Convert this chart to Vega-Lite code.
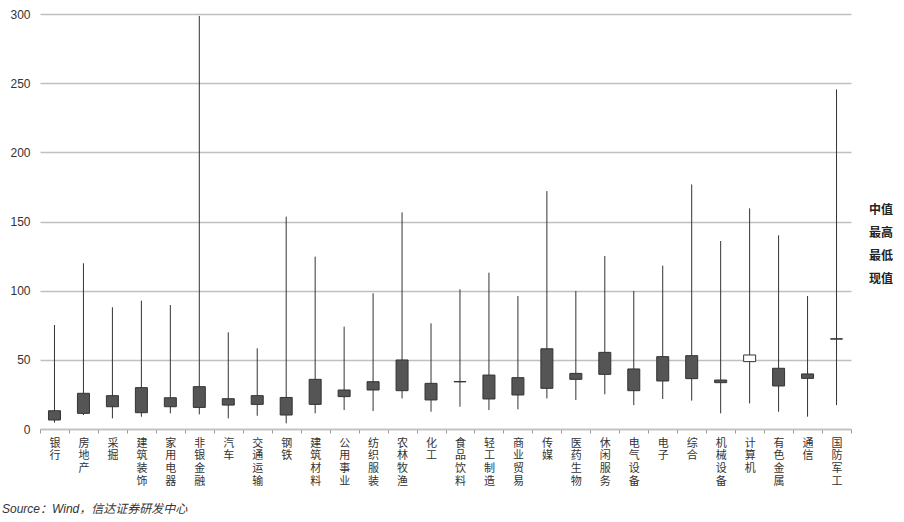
{
  "$schema": "https://vega.github.io/schema/vega-lite/v6.json",
  "width": 811,
  "height": 415,
  "autosize": {"type": "none"},
  "padding": {"left": 40, "top": 14, "right": 53, "bottom": 93},
  "background": "white",
  "config": {"view": {"stroke": null}},
  "title": {
    "text": "Source：Wind，信达证券研发中心",
    "orient": "bottom",
    "anchor": "start",
    "frame": "group",
    "dx": -38,
    "offset": 18,
    "fontSize": 12,
    "fontStyle": "italic",
    "fontWeight": "normal",
    "font": "Liberation Sans, Noto Sans CJK SC",
    "color": "#333333"
  },
  "data": {
    "values": [
      {"ind": "银行", "max": 75.2, "min": 4.6, "median": 13.2, "current": 6.5},
      {"ind": "房地产", "max": 119.8, "min": 10.1, "median": 25.8, "current": 11.3},
      {"ind": "采掘", "max": 88.0, "min": 7.7, "median": 24.1, "current": 16.1},
      {"ind": "建筑装饰", "max": 92.8, "min": 8.9, "median": 29.9, "current": 11.8},
      {"ind": "家用电器", "max": 89.6, "min": 11.3, "median": 22.6, "current": 16.1},
      {"ind": "非银金融", "max": 298.6, "min": 10.6, "median": 30.6, "current": 15.6},
      {"ind": "汽车", "max": 69.9, "min": 7.7, "median": 21.9, "current": 17.3},
      {"ind": "交通运输", "max": 58.3, "min": 9.6, "median": 24.1, "current": 17.8},
      {"ind": "钢铁", "max": 153.5, "min": 4.1, "median": 22.8, "current": 10.1},
      {"ind": "建筑材料", "max": 124.6, "min": 11.3, "median": 35.9, "current": 17.8},
      {"ind": "公用事业", "max": 74.0, "min": 13.7, "median": 28.2, "current": 23.4},
      {"ind": "纺织服装", "max": 98.1, "min": 13.0, "median": 34.2, "current": 28.2},
      {"ind": "农林牧渔", "max": 156.6, "min": 22.1, "median": 49.9, "current": 27.7},
      {"ind": "化工", "max": 76.4, "min": 12.5, "median": 33.0, "current": 21.0},
      {"ind": "食品饮料", "max": 101.0, "min": 16.1, "median": 34.3, "current": 34.1},
      {"ind": "轻工制造", "max": 113.0, "min": 13.7, "median": 39.0, "current": 21.7},
      {"ind": "商业贸易", "max": 96.1, "min": 14.2, "median": 37.1, "current": 24.6},
      {"ind": "传媒", "max": 172.0, "min": 22.1, "median": 58.0, "current": 29.4},
      {"ind": "医药生物", "max": 99.8, "min": 21.0, "median": 40.2, "current": 35.9},
      {"ind": "休闲服务", "max": 125.1, "min": 25.1, "median": 55.4, "current": 39.5},
      {"ind": "电气设备", "max": 99.8, "min": 17.3, "median": 43.4, "current": 27.7},
      {"ind": "电子", "max": 118.1, "min": 21.7, "median": 52.3, "current": 34.7},
      {"ind": "综合", "max": 176.8, "min": 20.5, "median": 53.0, "current": 36.4},
      {"ind": "机械设备", "max": 135.9, "min": 11.3, "median": 35.4, "current": 33.5},
      {"ind": "计算机", "max": 159.5, "min": 18.5, "median": 48.7, "current": 53.5},
      {"ind": "有色金属", "max": 140.0, "min": 12.5, "median": 43.9, "current": 31.1},
      {"ind": "通信", "max": 96.1, "min": 8.9, "median": 39.8, "current": 36.6},
      {"ind": "国防军工", "max": 245.5, "min": 17.3, "median": 65.2, "current": 65.0}
    ]
  },
  "layer": [
    {
      "mark": {"type": "rule", "color": "#333333", "strokeWidth": 1},
      "encoding": {
        "x": {
          "field": "ind",
          "type": "nominal",
          "sort": null,
          "scale": {"paddingInner": 0, "paddingOuter": 0},
          "axis": {
            "title": null,
            "labelAngle": 0,
            "labelExpr": "split(datum.label, '')",
            "labelLineHeight": 12.7,
            "labelBaseline": "top",
            "labelFont": "Noto Sans CJK SC",
            "labelFontSize": 11,
            "labelColor": "#333333",
            "tickBand": "extent",
            "tickColor": "#999999",
            "tickSize": 4,
            "domainColor": "#c0c0c0",
            "domainWidth": 1.5,
            "labelPadding": 4,
            "grid": false
          }
        },
        "y": {
          "field": "min",
          "type": "quantitative",
          "scale": {"domain": [0, 300], "nice": false},
          "axis": {
            "title": null,
            "values": [0, 50, 100, 150, 200, 250, 300],
            "ticks": false,
            "domain": false,
            "grid": true,
            "gridColor": "#c0c0c0",
            "gridWidth": 1.5,
            "labelFont": "Liberation Sans",
            "labelFontSize": 12,
            "labelColor": "#333333",
            "labelPadding": 10
          }
        },
        "y2": {"field": "max"}
      }
    },
    {
      "mark": {"type": "bar", "size": 12, "stroke": "#333333", "strokeWidth": 1},
      "encoding": {
        "x": {"field": "ind", "type": "nominal", "sort": null},
        "y": {"field": "median", "type": "quantitative"},
        "y2": {"field": "current"},
        "fill": {
          "condition": {"test": "datum.current > datum.median", "value": "#ffffff"},
          "value": "#555555"
        }
      }
    },
    {
      "data": {"values": [{"k": "中值"}, {"k": "最高"}, {"k": "最低"}, {"k": "现值"}]},
      "mark": {"type": "point", "opacity": 0},
      "encoding": {
        "color": {
          "field": "k",
          "type": "nominal",
          "sort": null,
          "scale": {"domain": ["中值", "最高", "最低", "现值"], "range": ["#ffffff", "#ffffff", "#ffffff", "#ffffff"]},
          "legend": {
            "title": null,
            "orient": "none",
            "legendX": 817,
            "legendY": 190,
            "symbolSize": 0,
            "symbolOpacity": 0,
            "symbolStrokeWidth": 0,
            "labelOffset": 0,
            "padding": 0,
            "rowPadding": 11,
            "labelFont": "Noto Sans CJK SC",
            "labelFontSize": 12,
            "labelFontWeight": "bold",
            "labelColor": "#222222"
          }
        }
      }
    }
  ]
}
